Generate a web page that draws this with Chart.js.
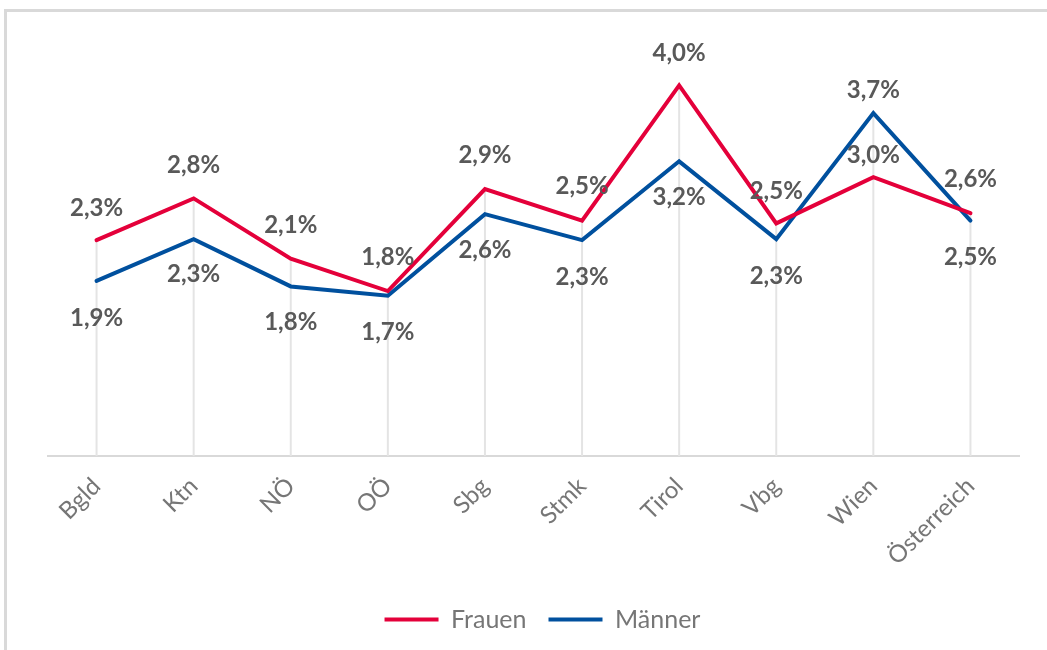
<!DOCTYPE html>
<html lang="de">
<head>
<meta charset="utf-8">
<title>Frauen und Männer nach Bundesland</title>
<script src="https://cdn.jsdelivr.net/npm/chart.js@4.4.1/dist/chart.umd.min.js"></script>
<style>
  html, body { margin: 0; padding: 0; background: #fff; overflow: hidden; }
  .frame { position: absolute; left: 4px; top: 9px; width: 1140px; height: 700px; border-top: 3px solid #d9d9d9; border-left: 3px solid #d9d9d9; }
  .wrap { position: absolute; left: 0; top: 0; width: 1080px; height: 650px; }
</style>
</head>
<body>
<div class="frame"></div>
<div class="wrap"><canvas id="quoteChart"></canvas></div>
<script>
// Werte in %
var CATEGORIES = ["Bgld", "Ktn", "NÖ", "OÖ", "Sbg", "Stmk", "Tirol", "Vbg", "Wien", "Österreich"];
var FRAUEN = [2.33, 2.78, 2.13, 1.78, 2.88, 2.54, 4.00, 2.51, 3.01, 2.62];
var MAENNER = [1.89, 2.34, 1.83, 1.73, 2.61, 2.33, 3.18, 2.34, 3.70, 2.54];
var SERIES_NAMES = ["Frauen", "Männer"];

// Lage der Beschriftungen relativ zum Punkt (px, negativ = oberhalb)
var LABEL_DY_FRAUEN = [-32, -33, -33, -34, -34, -34, -32, -32, -22, -34];
var LABEL_DY_MAENNER = [37, 35, 36, 37, 36, 37, 36, 37, -23, 37];

(function () {
  "use strict";
  var FONT = "Lato";
  var GREY_TEXT = "#767676";
  var GREY_LABEL = "#595959";

  function fmt(v) { return v.toFixed(1).replace(".", ",") + "%"; }

  // Lotlinien vom höchsten Punkt bis zur Achse
  var dropLines = {
    id: "dropLines",
    beforeDatasetsDraw: function (chart) {
      var ctx = chart.ctx, area = chart.chartArea;
      var metas = chart.getSortedVisibleDatasetMetas();
      ctx.save();
      ctx.strokeStyle = "#e4e4e4";
      ctx.lineWidth = 2;
      CATEGORIES.forEach(function (c, i) {
        var top = Math.min.apply(null, metas.map(function (m) { return m.data[i].y; }));
        var x = metas[0].data[i].x;
        ctx.beginPath();
        ctx.moveTo(x, top);
        ctx.lineTo(x, area.bottom);
        ctx.stroke();
      });
      ctx.restore();
    }
  };

  var valueLabels = {
    id: "valueLabels",
    afterDatasetsDraw: function (chart) {
      var ctx = chart.ctx;
      var offsets = [LABEL_DY_FRAUEN, LABEL_DY_MAENNER];
      ctx.save();
      ctx.font = "bold 24px " + FONT;
      ctx.fillStyle = GREY_LABEL;
      ctx.textAlign = "center";
      ctx.textBaseline = "middle";
      chart.data.datasets.forEach(function (ds, di) {
        var meta = chart.getDatasetMeta(di);
        meta.data.forEach(function (pt, i) {
          ctx.fillText(fmt(ds.data[i]), pt.x, pt.y + offsets[di][i]);
        });
      });
      ctx.restore();
    }
  };

  // Legende etwas nach rechts (wie im Original, dort ist die Grafik breiter)
  var legendShift = {
    id: "legendShift",
    afterLayout: function (chart) {
      if (!chart.legend) return;
      chart.legend.left += 9;
      chart.legend.right += 9;
    }
  };

  new Chart(document.getElementById("quoteChart"), {
    type: "line",
    data: {
      labels: CATEGORIES,
      datasets: [
        { label: SERIES_NAMES[0], data: FRAUEN, borderColor: "#e4003a", backgroundColor: "#e4003a", borderWidth: 4, borderCapStyle: "round", pointRadius: 0, tension: 0 },
        { label: SERIES_NAMES[1], data: MAENNER, borderColor: "#00509e", backgroundColor: "#00509e", borderWidth: 4, borderCapStyle: "round", pointRadius: 0, tension: 0 }
      ]
    },
    options: {
      responsive: true, maintainAspectRatio: false, animation: false,
      layout: { padding: { top: 39, left: 48, right: 61, bottom: 8 } },
      plugins: {
        tooltip: { enabled: false },
        legend: {
          position: "bottom",
          labels: { usePointStyle: true, pointStyle: "line", pointStyleWidth: 54, padding: 22, color: GREY_TEXT, font: { family: FONT, size: 25 } }
        }
      },
      scales: {
        x: {
          offset: true,
          grid: { display: false },
          border: { display: true, color: "#d9d9d9", width: 2 },
          ticks: { minRotation: 45, maxRotation: 45, padding: 8, color: GREY_TEXT, font: { family: FONT, size: 24 } },
          afterFit: function (s) { s.height = 129; }
        },
        y: { display: false, min: 0, max: 4.5 }
      }
    },
    plugins: [dropLines, valueLabels, legendShift]
  });
})();
</script>
</body>
</html>
